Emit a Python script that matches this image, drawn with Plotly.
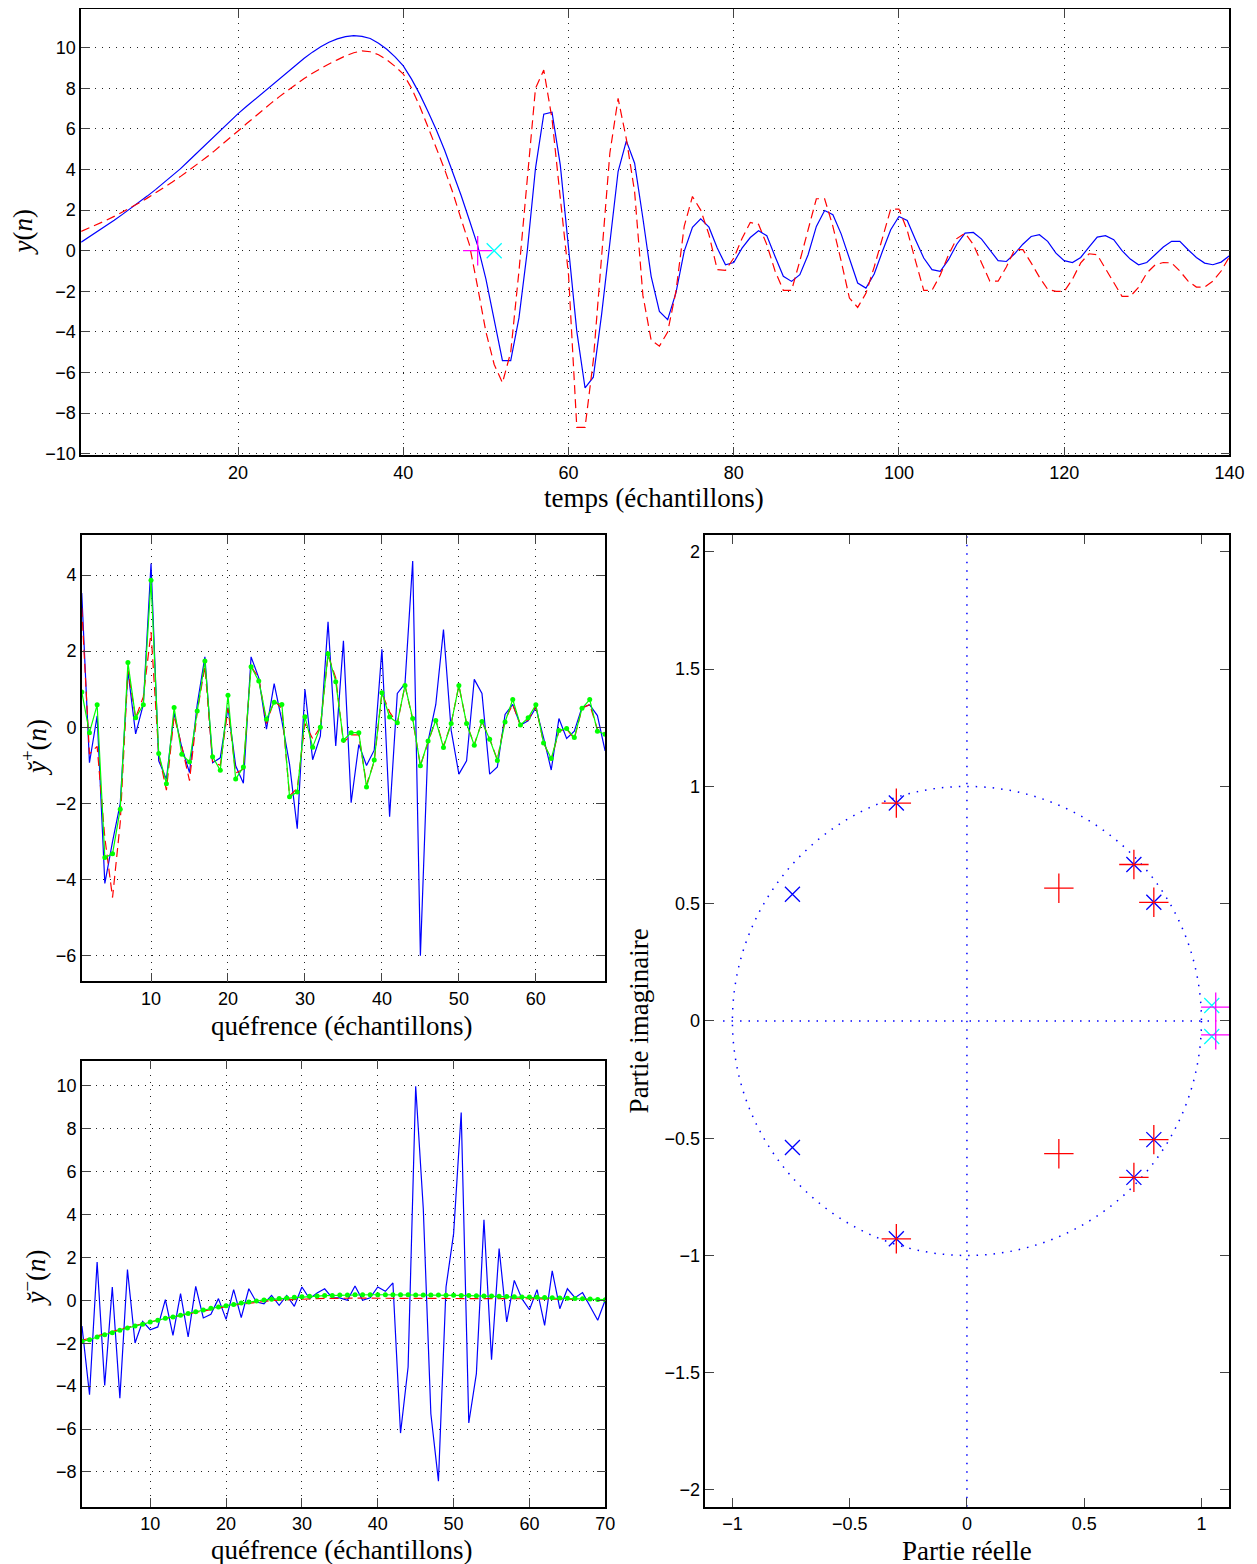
import plotly.graph_objects as go

# measured mapping between figure pixels and the final picture
SX, OX = 0.9887, 6.8
SY, OY = 0.9945, 7.5
W, H = 1256, 1565

# ---------------- data ----------------
# top plot : y(n), n = 1..140
n_top = list(range(1, 141))
y_blue = [0.42, 0.68, 0.95, 1.22, 1.5, 1.79, 2.08, 2.38, 2.69, 3.01,
          3.34, 3.68, 4.03, 4.42, 4.81, 5.21, 5.61, 6.0, 6.38, 6.75,
          7.1, 7.44, 7.77, 8.1, 8.45, 8.8, 9.15, 9.48, 9.78, 10.05,
          10.27, 10.43, 10.54, 10.59, 10.56, 10.45, 10.22, 9.92, 9.55, 9.1,
          8.45, 7.7, 6.85, 5.95, 4.95, 3.87, 2.72, 1.5, 0.25, -1.4,
          -3.4, -5.41, -5.41, -3.31, -0.03, 4.06, 6.72, 6.82, 4.23, 0.13,
          -3.97, -6.76, -6.23, -3.15, 0.46, 3.9, 5.41, 4.31, 1.6, -1.26,
          -2.99, -3.39, -2.08, -0.03, 1.15, 1.57, 1.16, 0.13, -0.69, -0.58,
          0.13, 0.65, 0.98, 0.74, -0.28, -1.26, -1.51, -1.18, -0.2, 1.2,
          1.98, 1.77, 0.83, -0.4, -1.59, -1.84, -1.15, -0.03, 1.03, 1.69,
          1.49, 0.54, -0.36, -0.93, -1.02, -0.44, 0.32, 0.87, 0.9, 0.57,
          0.01, -0.49, -0.53, -0.15, 0.32, 0.7, 0.79, 0.46, -0.12, -0.49,
          -0.58, -0.33, 0.18, 0.67, 0.74, 0.54, 0.0, -0.41, -0.69, -0.58,
          -0.2, 0.18, 0.46, 0.46, 0.05, -0.33, -0.61, -0.69, -0.56, -0.25]
y_red = [0.95, 1.12, 1.3, 1.49, 1.69, 1.9, 2.12, 2.35, 2.59, 2.84,
         3.1, 3.37, 3.65, 3.94, 4.24, 4.55, 4.87, 5.2, 5.55, 5.9,
         6.25, 6.6, 6.94, 7.27, 7.59, 7.9, 8.2, 8.48, 8.74, 8.98,
         9.2, 9.4, 9.6, 9.75, 9.84, 9.8, 9.65, 9.4, 9.08, 8.7,
         8.0, 7.1, 6.1, 5.05, 4.0, 2.85, 1.55, 0.3, -1.8, -4.0,
         -5.6, -6.5, -5.0, -1.0, 3.5, 8.0, 8.9, 6.5, 2.6, -1.2,
         -8.7, -8.7, -5.4, -0.2, 4.8, 7.5, 5.5, 2.9, -2.2, -4.4,
         -4.7, -4.0, -2.0, 1.2, 2.67, 2.0, 0.79, -0.93, -0.97, -0.36,
         0.6, 1.39, 1.3, 0.3, -1.0, -1.95, -1.95, -0.5, 1.0, 2.56,
         2.56, 1.2, -0.5, -2.33, -2.79, -2.1, -0.8, 0.6, 2.05, 2.05,
         1.0, -0.5, -1.95, -1.95, -1.2, -0.2, 0.6, 0.87, 0.3, -0.6,
         -1.5, -1.5, -0.8, 0.05, 0.05, -0.6, -1.3, -1.9, -2.0, -2.0,
         -1.4, -0.6, -0.15, -0.2, -0.9, -1.6, -2.25, -2.25, -1.8, -1.1,
         -0.7, -0.58, -0.6, -1.0, -1.5, -1.79, -1.79, -1.5, -1.0, -0.3]
top_plus_x, top_plus_y = [49.0], [0.0]
top_cross_x, top_cross_y = [51.0], [0.0]

# middle plot : y^+(n), n = 1..69
n_mid = list(range(1, 70))
mid_blue = [3.53, -0.93, 0.3, -4.1, -3.0, -2.0, 1.48, -0.17, 0.6, 4.3,
            -0.88, -1.36, 0.38, -0.53, -1.19, 0.6, 1.85, -0.93, -0.8, 0.52,
            -1.01, -1.47, 1.85, 1.3, -0.05, 1.15, 0.17, -0.97, -2.66, 1.0,
            -0.85, -0.23, 2.77, -0.49, 2.27, -1.98, -0.45, -1.0, -0.6, 2.05,
            -2.35, 0.89, 1.15, 4.37, -6.0, -0.36, 0.6, 2.57, -0.08, -1.23,
            -0.88, 1.26, 0.89, -1.23, -1.04, 0.34, 0.6, 0.06, 0.17, 0.52,
            -0.27, -1.12, 0.23, -0.29, -0.1, 0.53, 0.59, 0.31, -0.62]
mid_red = [3.14, -0.7, -0.5, -2.9, -4.47, -2.5, 1.5, 0.25, 0.8, 2.5,
           -0.7, -1.65, 0.3, -0.5, -1.4, 0.4, 1.6, -0.9, -1.0, 0.5,
           -1.2, -1.1, 1.6, 1.3, 0.1, 0.7, 0.5, -1.8, -1.6, 0.1,
           -0.3, 0.0, 1.9, 1.3, -0.4, -0.2, -0.2, -1.5, -0.9, 0.9,
           0.4, 0.1, 1.1, 0.2, -1.0, -0.4, 0.2, -0.5, 0.1, 1.1,
           0.1, -0.45, 0.15, -0.3, -0.85, 0.2, 0.6, 0.05, 0.2, 0.55,
           -0.4, -0.85, -0.1, -0.05, -0.3, 0.5, 0.6, -0.05, -0.15]
mid_green = [0.93, -0.14, 0.59, -3.42, -3.32, -2.15, 1.7, 0.25, 0.59, 3.86,
             -0.69, -1.48, 0.52, -0.71, -0.91, 0.43, 1.74, -0.77, -1.13, 0.84,
             -1.36, -1.04, 1.59, 1.22, 0.21, 0.66, 0.6, -1.82, -1.7, 0.28,
             -0.52, 0.0, 1.93, 1.2, -0.34, -0.14, -0.14, -1.57, -0.86, 0.91,
             0.27, 0.12, 1.1, 0.23, -1.01, -0.36, 0.18, -0.53, 0.1, 1.1,
             0.1, -0.47, 0.15, -0.31, -0.87, 0.14, 0.73, 0.06, 0.25, 0.59,
             -0.41, -0.82, -0.08, -0.03, -0.27, 0.5, 0.73, -0.1, -0.18]

# bottom plot : y^-(n), n = 1..70
n_bot = list(range(1, 71))
bot_blue = [-1.2, -4.4, 1.79, -3.97, 0.62, -4.56, 1.43, -1.99, -0.98, -1.37,
            -1.24, 0.03, -1.63, 0.31, -1.71, 0.65, -0.82, -0.65, 0.08, -0.89,
            0.5, -0.81, 0.54, -0.08, -0.16, 0.23, -0.23, 0.23, -0.28, 0.62,
            0.08, 0.34, 0.54, 0.11, 0.11, 0.0, 0.67, 0.0, 0.12, 0.62,
            0.42, 0.81, -6.19, -3.11, 9.98, 4.28, -5.29, -8.43, 0.62, 3.11,
            8.76, -5.72, -3.42, 3.76, -2.77, 2.41, -1.01, 0.93, 0.08, -0.44,
            0.5, -1.17, 1.37, -0.39, 0.54, 0.12, 0.36, -0.31, -0.93, 0.03]
bot_red = [-1.85, -1.78, -1.66, -1.55, -1.46, -1.36, -1.26, -1.17, -1.09, -1.0,
           -0.92, -0.84, -0.77, -0.7, -0.62, -0.55, -0.48, -0.41, -0.35, -0.29,
           -0.23, -0.18, -0.13, -0.08, -0.04, -0.01, 0.01, 0.03, 0.05, 0.06,
           0.07, 0.08, 0.09, 0.1, 0.1, 0.1, 0.1, 0.1, 0.1, 0.1,
           0.1, 0.1, 0.1, 0.1, 0.1, 0.1, 0.1, 0.1, 0.1, 0.1,
           0.1, 0.1, 0.1, 0.1, 0.1, 0.09, 0.09, 0.08, 0.08, 0.08,
           0.07, 0.07, 0.06, 0.06, 0.05, 0.05, 0.04, 0.04, 0.03, 0.03]
bot_green = [-1.91, -1.84, -1.71, -1.6, -1.51, -1.4, -1.29, -1.2, -1.12, -1.01,
             -0.93, -0.84, -0.78, -0.7, -0.61, -0.53, -0.45, -0.37, -0.31, -0.25,
             -0.19, -0.12, -0.08, -0.03, 0.02, 0.05, 0.08, 0.11, 0.14, 0.17,
             0.19, 0.2, 0.22, 0.23, 0.25, 0.25, 0.26, 0.26, 0.26, 0.26,
             0.26, 0.26, 0.26, 0.26, 0.25, 0.25, 0.25, 0.25, 0.24, 0.24,
             0.23, 0.22, 0.21, 0.2, 0.2, 0.19, 0.18, 0.17, 0.16, 0.15,
             0.14, 0.13, 0.12, 0.11, 0.1, 0.08, 0.07, 0.06, 0.04, 0.03]

# right plot : z-plane
bx_re = [-0.301, -0.301, -0.744, -0.744, 0.712, 0.712, 0.797, 0.797]
bx_im = [0.929, -0.929, 0.540, -0.540, 0.667, -0.667, 0.506, -0.506]
rp_re = [-0.301, -0.301, 0.712, 0.712, 0.797, 0.797, 0.392, 0.392]
rp_im = [0.929, -0.929, 0.667, -0.667, 0.506, -0.506, 0.566, -0.566]
cx_re = [1.044, 1.044]
cx_im = [0.066, -0.066]
mp_re = [1.061, 1.061]
mp_im = [0.059, -0.059]

top_xticks = [20, 40, 60, 80, 100, 120, 140]
top_yticks = [-10, -8, -6, -4, -2, 0, 2, 4, 6, 8, 10]
mid_xticks = [10, 20, 30, 40, 50, 60]
mid_yticks = [-6, -4, -2, 0, 2, 4]
bot_xticks = [10, 20, 30, 40, 50, 60, 70]
bot_yticks = [-8, -6, -4, -2, 0, 2, 4, 6, 8, 10]
z_xticks = [-1, -0.5, 0, 0.5, 1]
z_yticks = [-2, -1.5, -1, -0.5, 0, 0.5, 1, 1.5, 2]

# ---------------- figure ----------------
BLUE, RED, GREEN, CYAN, MAG = "#0000ff", "#ff0000", "#00ff00", "#00ffff", "#ff00ff"
DASH = "9px,5px"
fig = go.Figure()


def line(x, y, color, ax, dash="solid", width=1.2, mode="lines", msize=5):
    fig.add_trace(go.Scatter(x=x, y=y, mode=mode, xaxis="x" + ax, yaxis="y" + ax,
                             line=dict(color=color, width=width, dash=dash),
                             marker=dict(color=color, size=msize),
                             hoverinfo="skip", showlegend=False))


def mark(x, y, color, ax, symbol, size):
    fig.add_trace(go.Scatter(x=x, y=y, mode="markers", xaxis="x" + ax, yaxis="y" + ax,
                             marker=dict(symbol=symbol, size=size, color=color,
                                         line=dict(color=color, width=1.3)),
                             hoverinfo="skip", showlegend=False))


line(n_top, y_blue, BLUE, "")
line(n_top, y_red, RED, "", dash=DASH)
mark(top_plus_x, top_plus_y, MAG, "", "cross-thin", 21)
mark(top_cross_x, top_cross_y, CYAN, "", "x-thin", 15)

line(n_mid, mid_blue, BLUE, "2")
line(n_mid, mid_red, RED, "2", dash=DASH)
line(n_mid, mid_green, GREEN, "2", mode="lines+markers", msize=5)

line(n_bot, bot_blue, BLUE, "3")
line(n_bot, bot_red, RED, "3", dash=DASH)
line(n_bot, bot_green, GREEN, "3", mode="lines+markers", msize=5)

mark(bx_re, bx_im, BLUE, "4", "x-thin", 15)
mark(rp_re, rp_im, RED, "4", "cross-thin", 21)
mark(cx_re, cx_im, CYAN, "4", "x-thin", 15)
mark(mp_re, mp_im, MAG, "4", "cross-thin", 21)

TICKFONT = dict(family="Liberation Sans, Arial, sans-serif", size=18, color="black")
TITLEFONT = dict(family="Liberation Serif, Times New Roman, serif", size=27, color="black")


def fmt(v):
    s = ("%g" % abs(v))
    return ("\u2212" + s) if v < 0 else s


def axis(domain, rng, tickvals, grid=True, anchor=None):
    return dict(domain=domain, range=rng, tickvals=tickvals,
                ticktext=[fmt(v) for v in tickvals],
                showline=True, linecolor="black", linewidth=1.5, mirror="ticks",
                ticks="inside", ticklen=9, tickwidth=1, tickcolor="#444",
                showgrid=grid, gridcolor="#222", gridwidth=1, griddash="1px,6px",
                zeroline=False, tickfont=TICKFONT, anchor=anchor)


def clamp(v):
    return min(1.0, max(0.0, v))


def fx(X):
    return (X - OX) / SX


def fy(Y):
    return (Y - OY) / SY


def dx(a, b):
    return [clamp(fx(a) / W), clamp(fx(b) / W)]


def dy(top, bottom):
    return [clamp(1 - fy(bottom) / H), clamp(1 - fy(top) / H)]


lay = dict(width=W, height=H, autosize=False, margin=dict(l=0, r=0, t=0, b=0),
           paper_bgcolor="white", plot_bgcolor="white", showlegend=False)
lay["xaxis"] = axis(dx(80, 1229), [1, 140], top_xticks, anchor="y")
lay["yaxis"] = axis(dy(8, 454.3), [-10.08, 11.88], top_yticks, anchor="x")
lay["xaxis2"] = axis(dx(80.6, 604.3), [1, 69], mid_xticks, anchor="y2")
lay["yaxis2"] = axis(dy(534, 980.7), [-6.67, 5.05], mid_yticks, anchor="x2")
lay["xaxis3"] = axis(dx(80.8, 604.5), [1, 70], bot_xticks, anchor="y3")
lay["yaxis3"] = axis(dy(1060, 1506.7), [-9.63, 11.18], bot_yticks, anchor="x3")
lay["xaxis4"] = axis(dx(704.7, 1228.7), [-1.115, 1.118], z_xticks, grid=False, anchor="y4")
lay["yaxis4"] = axis(dy(534, 1506.7), [-2.072, 2.072], z_yticks, grid=False, anchor="x4")
fig.update_layout(**lay)

# z-plane reference: unit circle and axes
ZL = dict(color=BLUE, width=1.5, dash="1.5px,7px")
fig.add_shape(type="circle", xref="x4", yref="y4", x0=-1, y0=-1, x1=1, y1=1,
              line=ZL, layer="below")
fig.add_shape(type="line", xref="x4", yref="y4", x0=-1.04, y0=0, x1=1.06, y1=0,
              line=ZL, layer="below")
fig.add_shape(type="line", xref="x4", yref="y4", x0=0, y0=-2.072, x1=0, y1=2.072,
              line=ZL, layer="below")


def ann(text, xp, yp, angle=0):
    fig.add_annotation(text=text, x=fx(xp) / W, y=1 - fy(yp) / H,
                       xref="paper", yref="paper",
                       xanchor="center", yanchor="middle", showarrow=False,
                       textangle=angle, font=TITLEFONT)


ann("temps (échantillons)", 653, 497)
ann("<i>y</i>(<i>n</i>)", 22, 231, -90)
ann("quéfrence (échantillons)", 341, 1025)
ann("<i>y\u0306</i><sup>+</sup>(<i>n</i>)", 33, 747, -90)
ann("quéfrence (échantillons)", 341, 1550)
ann("<i>y\u0306</i><sup>\u2212</sup>(<i>n</i>)", 33, 1278, -90)
ann("Partie réelle", 966, 1551)
ann("Partie imaginaire", 638, 1020, -90)

fig.write_html("out.html")
